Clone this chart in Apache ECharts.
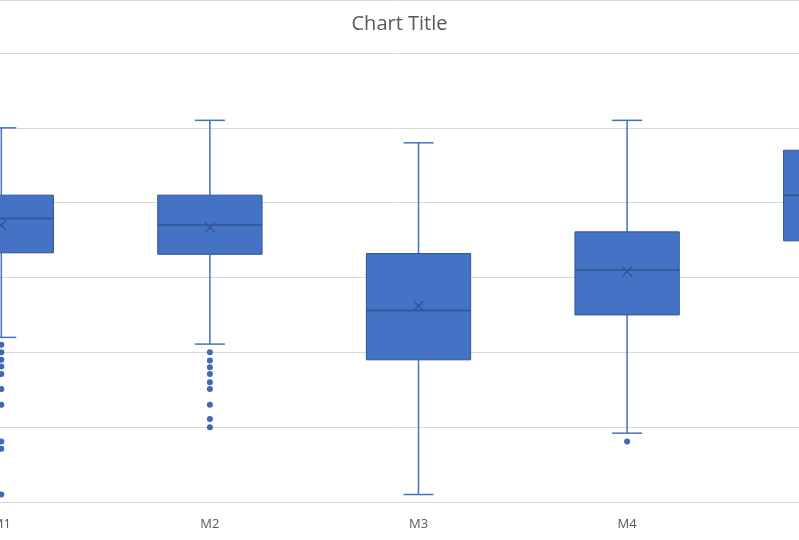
<!DOCTYPE html>
<html>
<head>
<meta charset="utf-8">
<title>Chart Title</title>
<script src="https://cdn.jsdelivr.net/npm/echarts@6/dist/echarts.min.js"></script>
<style>
	html, body { margin: 0; padding: 0; background: #fff; }
	#chart { width: 799px; height: 540px; }
</style>
</head>
<body>
<div id="chart"></div>
<script>
'use strict';

// categories + the five-number summaries
var categories = ['M1', 'M2', 'M3', 'M4', 'M5'];
var mins    = [22,   21.1, 1,    9.2,  28];
var q1s     = [33.3, 33.1, 19,   25,   34.9];
var medians = [37.9, 37,   25.6, 31,   41];
var q3s     = [41,   41,   33.2, 36.1, 47];
var maxs    = [50,   51,   48,   51,   55];
var means   = [37,   36.7, 26.2, 30.8, 40.5];

// outliers per category
var outliers = [
	[21, 20, 19, 18.1, 17.1, 15.1, 13, 8.1, 7.1, 1],
	[20, 18.9, 18, 17.1, 16, 15.1, 13, 11.1, 10],
	[],
	[8.1],
	[]
];

var yTicks = [0, 10, 20, 30, 40, 50, 60];

var Page = {
	colors: {
		fill: '#4472C4',
		edge: '#2F5597',
		median: '#2F528F',
		dot: '#3E68B8',
		grid: '#D9D9D9',
		text: '#595959'
	},
	init: function() {
		var myChart = echarts.init(document.getElementById('chart'));
		Page.Draw(myChart);
	}
};

Page.boxData = function() {
	var rows = [];
	for (var i = 0; i < categories.length; i++) {
		rows.push([i, mins[i], q1s[i], medians[i], q3s[i], maxs[i], means[i]]);
	}
	return rows;
};

Page.outlierData = function() {
	var pts = [];
	for (var i = 0; i < outliers.length; i++) {
		for (var j = 0; j < outliers[i].length; j++) {
			pts.push([i, outliers[i][j]]);
		}
	}
	return pts;
};

// excel-like box: short whisker caps, filled box, median line, mean cross
Page.renderBox = function(params, api) {
	var c = Page.colors;
	var idx = api.value(0);
	var lo = api.coord([idx, api.value(1)]);
	var q1 = api.coord([idx, api.value(2)]);
	var med = api.coord([idx, api.value(3)]);
	var q3 = api.coord([idx, api.value(4)]);
	var hi = api.coord([idx, api.value(5)]);
	var mean = api.coord([idx, api.value(6)]);
	var band = api.size([1, 0])[0];
	var half = band * 0.25;
	var cap = 15;
	var x = lo[0];
	var whisker = { stroke: c.fill, lineWidth: 1.5 };
	return {
		type: 'group',
		children: [
			{ type: 'line', shape: { x1: x, y1: hi[1], x2: x, y2: q3[1] }, style: whisker },
			{ type: 'line', shape: { x1: x, y1: q1[1], x2: x, y2: lo[1] }, style: whisker },
			{ type: 'line', shape: { x1: x - cap, y1: hi[1], x2: x + cap, y2: hi[1] }, style: whisker },
			{ type: 'line', shape: { x1: x - cap, y1: lo[1], x2: x + cap, y2: lo[1] }, style: whisker },
			{
				type: 'rect',
				shape: { x: x - half, y: q3[1], width: half * 2, height: q1[1] - q3[1] },
				style: { fill: c.fill, stroke: c.edge, lineWidth: 1 }
			},
			{ type: 'line', shape: { x1: x - half, y1: med[1], x2: x + half, y2: med[1] }, style: { stroke: c.median, lineWidth: 1.5 } },
			{ type: 'line', shape: { x1: mean[0] - 5, y1: mean[1] - 5, x2: mean[0] + 5, y2: mean[1] + 5 }, style: { stroke: c.median, lineWidth: 1.2 } },
			{ type: 'line', shape: { x1: mean[0] - 5, y1: mean[1] + 5, x2: mean[0] + 5, y2: mean[1] - 5 }, style: { stroke: c.median, lineWidth: 1.2 } }
		]
	};
};

Page.Draw = function(myChart) {
	var c = Page.colors;
	myChart.setOption({
		animation: false,
		backgroundColor: '#fff',
		title: {
			text: 'Chart Title',
			left: 'center',
			top: 9,
			textStyle: {
				color: c.text,
				fontFamily: 'Open Sans',
				fontSize: 20,
				fontWeight: 'normal'
			}
		},
		// plot area is wider than the window: M1 and M5 are cut at the edges
		grid: {
			left: -103,
			width: 1043,
			top: 53,
			bottom: 38,
			outerBoundsMode: 'none',
			containLabel: false
		},
		graphic: [{
			type: 'line',
			shape: { x1: 0, y1: 0.5, x2: 799, y2: 0.5 },
			style: { stroke: c.grid, lineWidth: 1 }
		}],
		xAxis: {
			type: 'category',
			data: categories,
			boundaryGap: true,
			axisLine: { show: false },
			axisTick: { show: false },
			axisLabel: {
				color: c.text,
				fontFamily: 'Open Sans',
				fontSize: 13,
				margin: 16,
				hideOverlap: false
			}
		},
		yAxis: {
			type: 'value',
			min: yTicks[0],
			max: yTicks[yTicks.length - 1],
			interval: 10,
			axisLine: { show: false },
			axisTick: { show: false },
			axisLabel: { show: false },
			splitLine: {
				lineStyle: { color: c.grid, width: 1 }
			}
		},
		series: [
			{
				name: 'box',
				type: 'custom',
				renderItem: Page.renderBox,
				encode: { x: 0, y: [1, 2, 3, 4, 5] },
				data: Page.boxData(),
				z: 2
			},
			{
				name: 'outliers',
				type: 'scatter',
				symbol: 'circle',
				symbolSize: 6,
				itemStyle: { color: c.dot, opacity: 1 },
				data: Page.outlierData(),
				z: 3
			}
		]
	});
};

Page.init();
</script>
</body>
</html>
